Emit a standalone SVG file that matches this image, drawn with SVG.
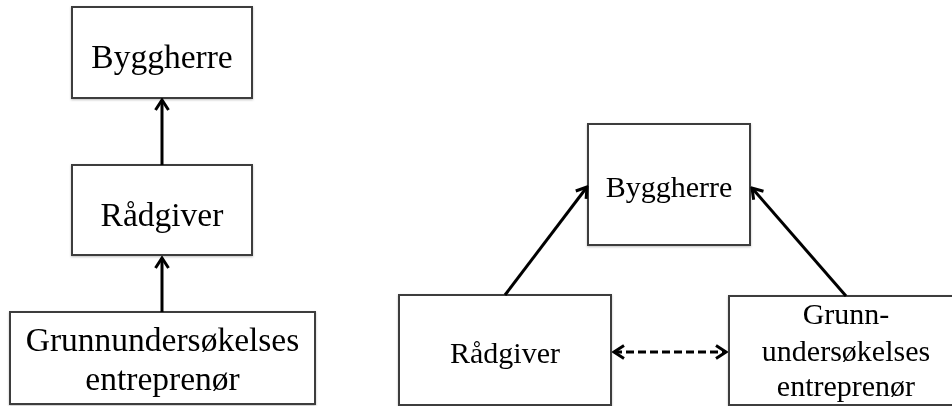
<svg xmlns="http://www.w3.org/2000/svg" width="952" height="406" viewBox="0 0 952 406">
  <defs>
    <filter id="soft" x="-5%" y="-5%" width="110%" height="115%">
      <feDropShadow dx="0" dy="1" stdDeviation="1.2" flood-color="#000" flood-opacity="0.25"/>
    </filter>
    <marker id="head" markerUnits="userSpaceOnUse" viewBox="-12 -8 14 16" refX="0" refY="0" markerWidth="14" markerHeight="16" orient="auto-start-reverse">
      <path d="M-10,-6.5 L0,0 L-10,6.5" fill="none" stroke="#000" stroke-width="3" stroke-linejoin="miter"/>
    </marker>
  </defs>
  <style>
    .box { fill: #fff; stroke: #3c3c3c; stroke-width: 2; }
    .lbl { font-family: "Liberation Serif", "Times New Roman", serif; fill: #000; text-anchor: middle; }
    .big { font-size: 33.5px; }
    .sm { font-size: 30px; }
    .edge { fill: none; stroke: #000; stroke-width: 3; }
    .dash { stroke-dasharray: 8 4; }
  </style>
  <rect width="952" height="406" fill="#fff"/>

  <!-- hierarchy: left -->
  <g id="l-byggherre" filter="url(#soft)">
    <rect class="box" x="72" y="7" width="180" height="91"/>
    <text class="lbl big" x="162" y="68">Byggherre</text>
  </g>
  <g id="l-radgiver" filter="url(#soft)">
    <rect class="box" x="72" y="165" width="180" height="90"/>
    <text class="lbl big" x="162" y="226">Rådgiver</text>
  </g>
  <g id="l-grunn" filter="url(#soft)">
    <rect class="box" x="10" y="312" width="305" height="92"/>
    <text class="lbl big" x="162.5" y="351">Grunnundersøkelses</text>
    <text class="lbl big" x="162.5" y="390">entreprenør</text>
  </g>

  <!-- triangle: right -->
  <g id="r-byggherre" filter="url(#soft)">
    <rect class="box" x="588" y="124" width="162" height="121"/>
    <text class="lbl sm" x="669" y="197">Byggherre</text>
  </g>
  <g id="r-radgiver" filter="url(#soft)">
    <rect class="box" x="399" y="295" width="212" height="110"/>
    <text class="lbl sm" x="505" y="363">Rådgiver</text>
  </g>
  <g id="r-grunn" filter="url(#soft)">
    <rect class="box" x="729" y="296" width="234" height="109"/>
    <text class="lbl sm" x="846" y="324">Grunn-</text>
    <text class="lbl sm" x="846" y="361">undersøkelses</text>
    <text class="lbl sm" x="846" y="396">entreprenør</text>
  </g>

  <g id="connectors">
    <line class="edge" x1="162" y1="165" x2="162" y2="100" marker-end="url(#head)"/>
    <line class="edge" x1="162" y1="312" x2="162" y2="258" marker-end="url(#head)"/>
    <line class="edge" x1="505" y1="295" x2="587" y2="187" marker-end="url(#head)"/>
    <line class="edge" x1="846" y1="296" x2="752" y2="188" marker-end="url(#head)"/>
    <line class="edge dash" x1="614" y1="352" x2="726" y2="352" marker-start="url(#head)" marker-end="url(#head)"/>
  </g>
</svg>
